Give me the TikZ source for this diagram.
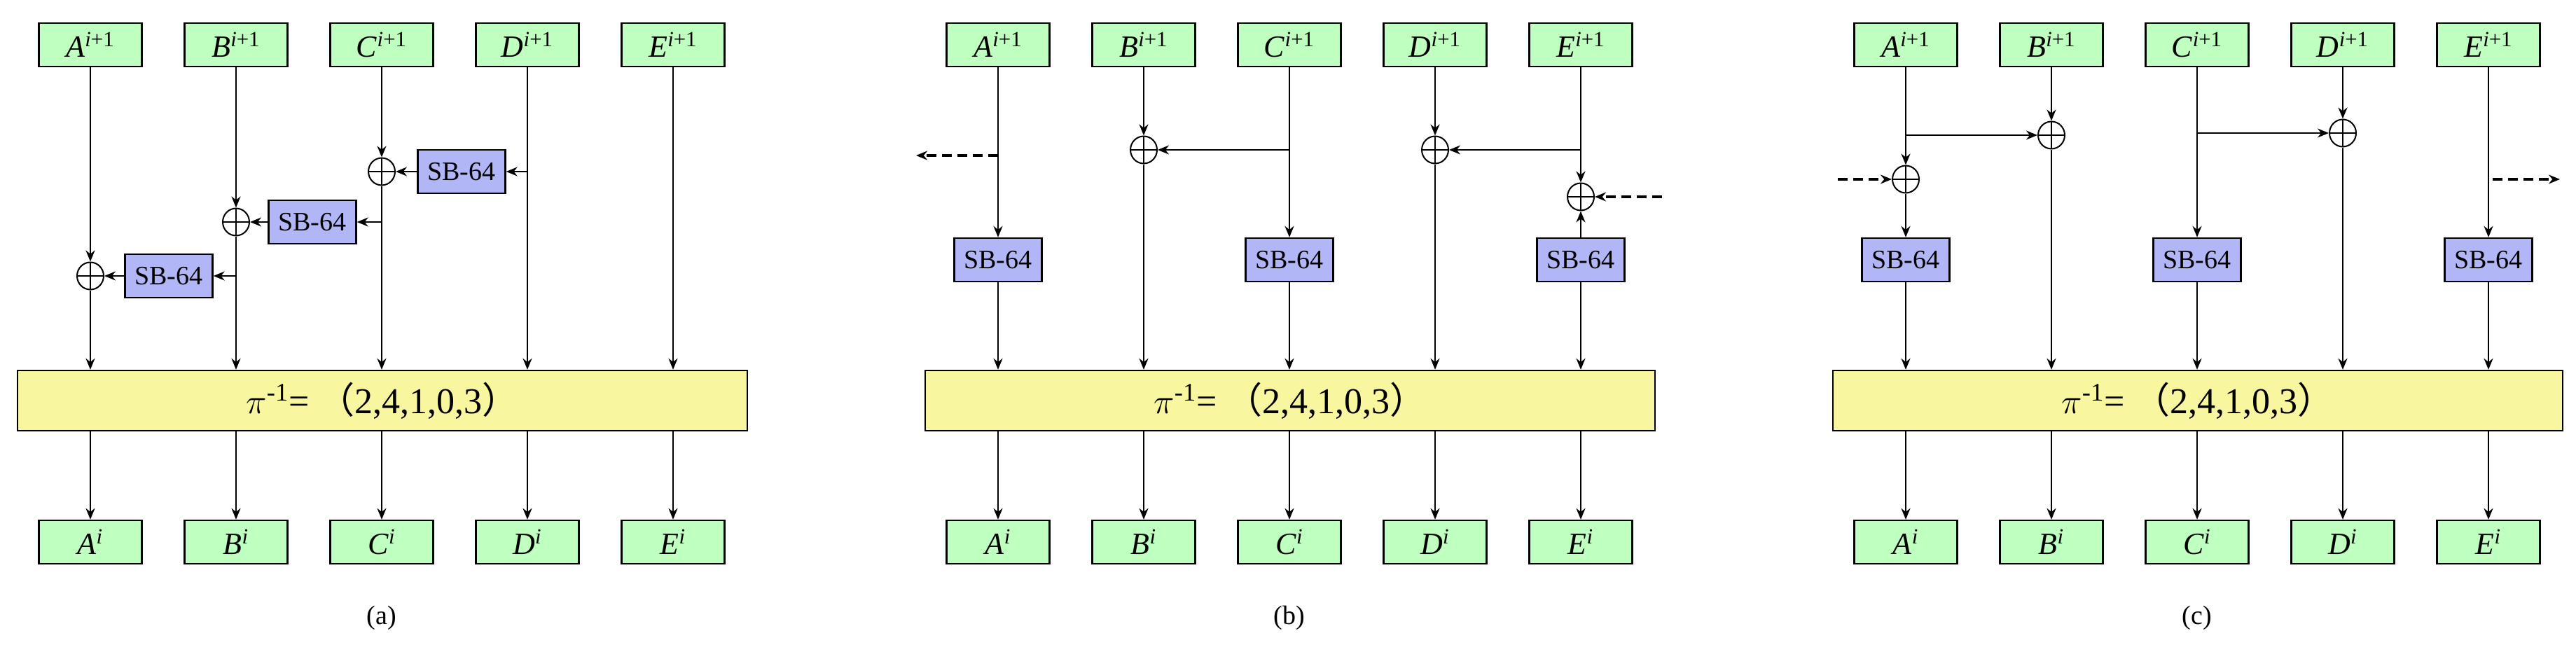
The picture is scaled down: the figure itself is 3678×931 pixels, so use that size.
\documentclass[tikz,border=0pt]{standalone}
\usepackage{fontspec}
\setmainfont{Liberation Serif}
\newfontfamily\cjk{Noto Sans CJK SC}
\usetikzlibrary{shapes.geometric,arrows.meta,positioning}
\newcommand{\lbl}[2]{\textit{#1}\textsuperscript{#2}}
\begin{document}
\begin{tikzpicture}[
    x=0.5pt, y=-0.5pt,
    >={Stealth[length=8pt,width=6.5pt]},
    word/.style={rectangle, draw, line width=1.2pt, fill=green!25!white, minimum width=73.5pt, minimum height=31pt, inner sep=0pt, font=\fontsize{22}{24}\selectfont},
    sbox/.style={rectangle, draw, line width=1.2pt, fill={rgb,255:red,176;green,182;blue,246}, minimum width=62.5pt, minimum height=31pt, inner sep=0pt, font=\fontsize{19}{21}\selectfont},
    perm/.style={rectangle, draw, line width=1.2pt, fill={rgb,255:red,248;green,247;blue,160}, minimum width=521pt, minimum height=43pt, font=\fontsize{26}{28}\selectfont},
    xor/.style={ellipse, draw, line width=1pt, minimum width=19pt, minimum height=19.5pt, inner sep=0pt,
        path picture={\draw[line width=1pt] (path picture bounding box.north) -- (path picture bounding box.south)
            (path picture bounding box.west) -- (path picture bounding box.east);}},
    arrow/.style={->, line width=1.2pt},
    dasharrow/.style={->, line width=1.6pt, dash pattern=on 7pt off 4pt}
]
\useasboundingbox (0,0) rectangle (3678,931);

% words, permutation and captions of the three panels
\foreach \p/\o in {a/0,b/1296,c/2592}{
    \foreach \w [count=\i from 0] in {A,B,C,D,E}{
        \node[word] (\p-\w-top) at (129+\o+208*\i,64) {\lbl{\w}{\textit{i}+1}};
        \node[word] (\p-\w-bot) at (129+\o+208*\i,774) {\lbl{\w}{\textit{i}}};
    }
    \node[perm] (\p-perm) at (546+\o,572) {$\pi$\textsuperscript{-1}= {\cjk（}2,4,1,0,3{\cjk）}};
    \node[font=\fontsize{19}{21}\selectfont] (\p-cap) at (545+\o,882) {(\p)};
    \foreach \w in {A,B,C,D,E}
        \draw[arrow] (\p-perm.south -| \p-\w-bot) -- (\p-\w-bot);
}

% (a)
\node[xor] (a-xA) at (129,394) {};
\node[xor] (a-xB) at (337,317) {};
\node[xor] (a-xC) at (545,245) {};
\node[sbox] (a-sA) at (241,394) {SB-64};
\node[sbox] (a-sB) at (446,317) {SB-64};
\node[sbox] (a-sC) at (659,245) {SB-64};
\draw[arrow] (a-A-top) -- (a-xA);
\draw[arrow] (a-xA) -- (a-xA |- a-perm.north);
\draw[arrow] (a-B-top) -- (a-xB);
\draw[arrow] (a-xB) -- (a-xB |- a-perm.north);
\draw[arrow] (a-C-top) -- (a-xC);
\draw[arrow] (a-xC) -- (a-xC |- a-perm.north);
\draw[arrow] (a-D-top) -- (a-D-top |- a-perm.north);
\draw[arrow] (a-E-top) -- (a-E-top |- a-perm.north);
\draw[arrow] (a-sA) -- (a-xA);
\draw[arrow] (a-sB) -- (a-xB);
\draw[arrow] (a-sC) -- (a-xC);
\draw[arrow] (a-xB |- a-sA) -- (a-sA);
\draw[arrow] (a-xC |- a-sB) -- (a-sB);
\draw[arrow] (a-D-top |- a-sC) -- (a-sC);

% (b)
\node[xor] (b-xB) at (1633,214) {};
\node[xor] (b-xD) at (2049,214) {};
\node[xor] (b-xE) at (2257,281) {};
\node[sbox] (b-sA) at (1425,371) {SB-64};
\node[sbox] (b-sC) at (1841,371) {SB-64};
\node[sbox] (b-sE) at (2257,371) {SB-64};
\coordinate (b-outL) at (1308,222);
\coordinate (b-inR) at (2373,281);
\draw[arrow] (b-A-top) -- (b-sA);
\draw[arrow] (b-sA) -- (b-sA |- b-perm.north);
\draw[dasharrow] (b-A-top |- b-outL) -- (b-outL);
\draw[arrow] (b-B-top) -- (b-xB);
\draw[arrow] (b-xB) -- (b-xB |- b-perm.north);
\draw[arrow] (b-C-top |- b-xB) -- (b-xB);
\draw[arrow] (b-C-top) -- (b-sC);
\draw[arrow] (b-sC) -- (b-sC |- b-perm.north);
\draw[arrow] (b-D-top) -- (b-xD);
\draw[arrow] (b-xD) -- (b-xD |- b-perm.north);
\draw[arrow] (b-E-top |- b-xD) -- (b-xD);
\draw[arrow] (b-E-top) -- (b-xE);
\draw[arrow] (b-sE) -- (b-xE);
\draw[arrow] (b-sE) -- (b-sE |- b-perm.north);
\draw[dasharrow] (b-inR) -- (b-xE);

% (c)
\node[xor] (c-xA) at (2721,256) {};
\node[xor] (c-xB) at (2929,193) {};
\node[xor] (c-xD) at (3345,190) {};
\node[sbox] (c-sA) at (2721,371) {SB-64};
\node[sbox] (c-sC) at (3137,371) {SB-64};
\node[sbox] (c-sE) at (3553,371) {SB-64};
\coordinate (c-inL) at (2624,256);
\coordinate (c-outR) at (3655,256);
\draw[arrow] (c-A-top) -- (c-xA);
\draw[arrow] (c-xA) -- (c-sA);
\draw[arrow] (c-sA) -- (c-sA |- c-perm.north);
\draw[dasharrow] (c-inL) -- (c-xA);
\draw[arrow] (c-A-top |- c-xB) -- (c-xB);
\draw[arrow] (c-B-top) -- (c-xB);
\draw[arrow] (c-xB) -- (c-xB |- c-perm.north);
\draw[arrow] (c-C-top) -- (c-sC);
\draw[arrow] (c-sC) -- (c-sC |- c-perm.north);
\draw[arrow] (c-C-top |- c-xD) -- (c-xD);
\draw[arrow] (c-D-top) -- (c-xD);
\draw[arrow] (c-xD) -- (c-xD |- c-perm.north);
\draw[arrow] (c-E-top) -- (c-sE);
\draw[arrow] (c-sE) -- (c-sE |- c-perm.north);
\draw[dasharrow] (c-E-top |- c-outR) ++(6,0) -- (c-outR);
\end{tikzpicture}
\end{document}
